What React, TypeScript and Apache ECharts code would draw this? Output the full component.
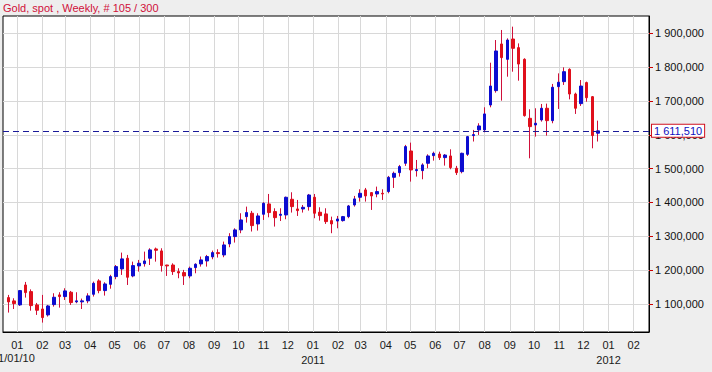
import React, { useEffect, useRef } from 'react';
import * as echarts from 'echarts';

const TITLE = 'Gold, spot , Weekly, # 105 / 300';
const START_LABEL = '01/01/10';
const FIRST_WEEK = [2009, 11, 21]; // Monday 21 Dec 2009 (UTC), weekly bars
const LAST_PRICE = 1611.51;

const OPEN = [
  1118.7, 1108.9, 1097.0, 1156.0, 1136.4, 1097.0, 1085.0, 1067.5, 1098.0, 1126.6,
  1121.7, 1134.5, 1106.0, 1106.0, 1109.0, 1128.5, 1168.0, 1139.4, 1158.0, 1180.8,
  1203.4, 1235.0, 1182.7, 1212.3, 1219.0, 1235.0, 1262.5, 1256.6, 1215.0, 1215.0,
  1195.5, 1192.6, 1182.7, 1207.4, 1218.2, 1227.0, 1239.0, 1251.7, 1244.8, 1277.3,
  1299.0, 1318.7, 1358.0, 1368.0, 1336.4, 1365.0, 1395.5, 1373.0, 1362.0, 1363.0,
  1409.3, 1380.7, 1380.7, 1387.6, 1415.2, 1371.0, 1366.0, 1346.2, 1345.0, 1346.2,
  1358.0, 1392.5, 1415.2, 1436.9, 1429.0, 1425.0, 1427.0, 1432.0, 1474.3, 1488.0,
  1515.7, 1552.0, 1494.0, 1494.0, 1515.7, 1538.3, 1543.0, 1532.4, 1537.3, 1501.0,
  1491.0, 1542.2, 1597.5, 1614.3, 1614.3, 1688.0, 1730.4, 1868.3, 1823.0, 1883.0,
  1857.5, 1823.0, 1648.6, 1629.0, 1643.7, 1678.3, 1641.7, 1742.3, 1757.0, 1793.3,
  1720.4, 1692.0, 1754.2, 1712.5, 1604.6,
];
const CLOSE = [
  1105.9, 1101.0, 1139.4, 1133.5, 1095.0, 1081.3, 1059.6, 1094.0, 1119.7, 1121.7,
  1138.4, 1104.0, 1109.0, 1109.0, 1123.7, 1161.0, 1139.4, 1159.0, 1180.8, 1210.3,
  1233.0, 1178.8, 1213.3, 1220.2, 1227.0, 1259.6, 1258.6, 1213.3, 1212.3, 1195.5,
  1191.6, 1182.7, 1205.4, 1217.3, 1230.0, 1240.0, 1251.7, 1248.7, 1274.3, 1299.0,
  1318.7, 1348.2, 1370.0, 1331.5, 1360.0, 1397.5, 1370.0, 1355.0, 1365.0, 1415.2,
  1387.6, 1375.8, 1385.6, 1422.0, 1368.0, 1361.0, 1343.3, 1336.4, 1351.0, 1358.0,
  1389.6, 1410.3, 1427.0, 1419.2, 1419.2, 1432.0, 1425.0, 1474.3, 1486.0, 1505.9,
  1565.0, 1496.0, 1497.0, 1510.8, 1537.3, 1545.2, 1532.4, 1540.0, 1503.0, 1488.0,
  1545.2, 1594.5, 1600.5, 1626.0, 1661.5, 1744.0, 1847.6, 1828.0, 1880.0, 1855.5,
  1809.0, 1656.5, 1624.0, 1634.0, 1678.3, 1641.7, 1740.4, 1755.2, 1786.4, 1720.4,
  1678.3, 1744.0, 1709.5, 1597.5, 1611.5,
];
const LOW = [
  1074.4, 1085.0, 1094.0, 1118.7, 1080.0, 1067.5, 1044.8, 1062.6, 1092.0, 1089.0,
  1111.7, 1097.0, 1102.0, 1085.0, 1102.0, 1121.7, 1131.5, 1124.6, 1145.0, 1173.0,
  1185.7, 1156.0, 1178.8, 1195.5, 1210.3, 1215.0, 1225.0, 1195.5, 1182.7, 1185.7,
  1175.9, 1156.0, 1175.9, 1190.6, 1210.3, 1210.3, 1232.0, 1237.0, 1238.0, 1267.5,
  1281.3, 1309.0, 1340.3, 1314.0, 1316.7, 1348.2, 1356.0, 1328.6, 1345.0, 1350.3,
  1370.0, 1360.0, 1370.0, 1375.8, 1353.3, 1346.2, 1336.4, 1309.0, 1323.6, 1343.3,
  1353.3, 1387.6, 1402.4, 1402.4, 1377.8, 1415.2, 1407.3, 1427.0, 1442.8, 1476.3,
  1508.0, 1461.5, 1476.3, 1468.4, 1501.0, 1523.5, 1525.5, 1508.8, 1498.0, 1481.0,
  1486.0, 1537.3, 1580.0, 1599.5, 1607.3, 1681.2, 1724.4, 1700.8, 1771.6, 1786.4,
  1759.8, 1653.6, 1530.4, 1594.5, 1638.8, 1597.5, 1634.0, 1676.3, 1747.2, 1704.6,
  1661.5, 1685.2, 1697.7, 1560.0, 1580.0,
];
const HIGH = [
  1126.6, 1116.7, 1141.0, 1165.0, 1143.0, 1102.9, 1126.6, 1097.0, 1131.5, 1134.5,
  1146.3, 1138.4, 1134.5, 1115.7, 1131.5, 1166.0, 1173.0, 1164.0, 1186.0, 1215.0,
  1251.7, 1244.8, 1225.0, 1230.0, 1254.6, 1264.5, 1266.5, 1264.5, 1215.5, 1220.0,
  1205.4, 1200.5, 1210.3, 1220.0, 1240.0, 1244.8, 1257.6, 1261.5, 1284.2, 1309.0,
  1323.6, 1368.0, 1387.6, 1375.0, 1368.0, 1400.5, 1425.0, 1382.7, 1382.7, 1417.2,
  1430.0, 1407.3, 1392.5, 1425.0, 1425.0, 1385.6, 1382.7, 1358.0, 1360.0, 1360.0,
  1392.5, 1419.2, 1438.8, 1442.8, 1430.0, 1446.7, 1438.8, 1478.3, 1491.0, 1510.8,
  1570.0, 1576.7, 1525.5, 1515.7, 1542.2, 1550.0, 1550.0, 1543.0, 1557.0, 1508.0,
  1547.0, 1596.5, 1614.3, 1634.0, 1681.2, 1813.0, 1880.0, 1909.7, 1885.0, 1919.5,
  1870.0, 1826.0, 1675.3, 1678.3, 1691.0, 1692.0, 1750.2, 1781.5, 1799.2, 1796.3,
  1724.4, 1761.8, 1757.0, 1714.5, 1641.7,
];

const PRICE_TICKS = [1100, 1200, 1300, 1400, 1500, 1600, 1700, 1800, 1900];
const MONTH_TICKS = [
  '2010-01-01', '2010-02-01', '2010-03-01', '2010-04-01', '2010-05-01', '2010-06-01',
  '2010-07-01', '2010-08-01', '2010-09-01', '2010-10-01', '2010-11-01', '2010-12-01',
  '2011-01-01', '2011-02-01', '2011-03-01', '2011-04-01', '2011-05-01', '2011-06-01',
  '2011-07-01', '2011-08-01', '2011-09-01', '2011-10-01', '2011-11-01', '2011-12-01',
  '2012-01-01', '2012-02-01',
];
const X_MIN = '2009-12-14T07:00:00Z';
const X_MAX = '2012-02-19T22:00:00Z';
const Y_MIN = 1017;
const Y_MAX = 1951;

const FONT = '"Liberation Sans", Arial, sans-serif';
const UP = '#0c0cd0';
const DOWN = '#e0101c';
const WICK = '#d0103a';
const LABEL = '#1a1a1a';

const fmtPrice = (v: number) => {
  const [i, d] = v.toFixed(3).split('.');
  return i.replace(/\B(?=(\d{3})+(?!\d))/g, ' ') + ',' + d;
};

export default function App() {
  const ref = useRef<HTMLDivElement>(null);
  useEffect(() => {
    if (!ref.current) return;
    const chart = echarts.init(ref.current, undefined, { renderer: 'svg' });
    const t0 = Date.UTC(FIRST_WEEK[0], FIRST_WEEK[1], FIRST_WEEK[2]);
    const dates = OPEN.map((_, i) => t0 + i * 7 * 86400000);
    const wickData = dates.map((t, i) => [t, OPEN[i], CLOSE[i], LOW[i], HIGH[i]]);
    const bodyData = dates.map((t, i) => [
      t, OPEN[i], CLOSE[i], Math.min(OPEN[i], CLOSE[i]), Math.max(OPEN[i], CLOSE[i]),
    ]);
    const monthVals = MONTH_TICKS.map((s) => Date.parse(s + 'T00:00:00Z'));

    chart.setOption({
      animation: false,
      backgroundColor: '#eeeeee',
      textStyle: { fontFamily: FONT },
      graphic: [
        {
          type: 'text',
          left: 3,
          top: 2,
          style: { text: TITLE, fill: WICK, font: `11px ${FONT}` },
        },
        {
          type: 'text',
          x: -8,
          y: 358,
          style: {
            text: START_LABEL,
            fill: LABEL,
            font: `11px ${FONT}`,
            verticalAlign: 'middle',
          },
        },
      ],
      grid: {
        left: 3,
        top: 16,
        right: 63,
        bottom: 40,
        show: true,
        backgroundColor: '#ffffff',
        borderColor: '#000000',
        borderWidth: 1,
        outerBoundsMode: 'none',
        containLabel: false,
      },
      xAxis: {
        type: 'value',
        min: Date.parse(X_MIN),
        max: Date.parse(X_MAX),
        axisLine: { show: true, lineStyle: { color: '#000', width: 1 } },
        axisTick: { show: false, customValues: monthVals },
        splitLine: { show: true, lineStyle: { color: '#d8d8d8', width: 1 } },
        axisLabel: {
          customValues: monthVals,
          color: LABEL,
          fontSize: 11,
          fontFamily: FONT,
          margin: 5,
          lineHeight: 15,
          hideOverlap: false,
          showMinLabel: true,
          showMaxLabel: true,
          formatter: (val: number) => {
            const d = new Date(val);
            const m = String(d.getUTCMonth() + 1).padStart(2, '0');
            const y = d.getUTCFullYear();
            if (d.getUTCMonth() === 0 && y > 2010) return `${m}\n${y}`;
            return m;
          },
        },
      },
      yAxis: {
        type: 'value',
        position: 'right',
        min: Y_MIN,
        max: Y_MAX,
        axisLine: { show: true, lineStyle: { color: '#000', width: 1 } },
        axisTick: {
          show: true,
          customValues: PRICE_TICKS,
          length: 4,
          lineStyle: { color: '#cc0000', width: 1 },
        },
        splitLine: { show: true, lineStyle: { color: '#d8d8d8', width: 1 } },
        axisLabel: {
          customValues: PRICE_TICKS,
          color: '#111',
          fontSize: 11,
          fontFamily: FONT,
          margin: 6,
          formatter: (v: number) => fmtPrice(v),
        },
      },
      series: [
        {
          type: 'candlestick',
          name: 'wick',
          data: wickData,
          encode: { x: 0, y: [1, 2, 3, 4] },
          barWidth: 0.1,
          barMinWidth: 0,
          silent: true,
          itemStyle: {
            color: WICK,
            color0: WICK,
            borderColor: WICK,
            borderColor0: WICK,
            borderWidth: 1,
          },
        },
        {
          type: 'candlestick',
          name: 'body',
          data: bodyData,
          encode: { x: 0, y: [1, 2, 3, 4] },
          barWidth: 3,
          barMinWidth: 0,
          silent: true,
          itemStyle: {
            color: UP,
            color0: DOWN,
            borderColor: UP,
            borderColor0: DOWN,
            borderWidth: 1,
          },
          markLine: {
            silent: true,
            symbol: ['none', 'none'],
            data: [{ yAxis: LAST_PRICE }],
            lineStyle: { color: '#1a1a9a', type: [6, 4], width: 1.2 },
            label: {
              show: true,
              position: 'end',
              distance: 3,
              formatter: () => fmtPrice(LAST_PRICE),
              color: '#1010c0',
              backgroundColor: '#ffffff',
              borderColor: '#d01020',
              borderWidth: 1,
              padding: [1, 2, 0, 2],
              fontSize: 11,
              fontFamily: FONT,
            },
          },
        },
      ],
    });
    return () => chart.dispose();
  }, []);

  return (
    <div
      ref={ref}
      style={{ position: 'absolute', left: 0, top: 0, width: 712, height: 372 }}
    />
  );
}
